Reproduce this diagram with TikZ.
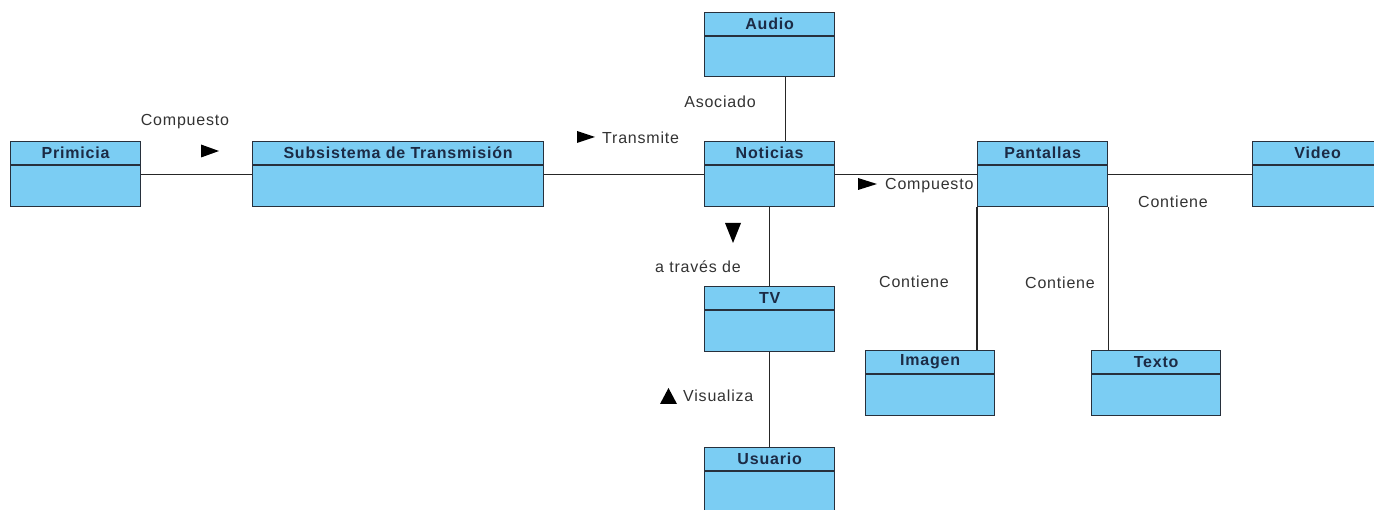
\documentclass[tikz,border=0pt]{standalone}
\usepackage{fontspec}
\setmainfont[LetterSpace=5]{Liberation Sans}
\definecolor{clsfill}{HTML}{7BCDF3}
\definecolor{clsline}{HTML}{27303C}
\definecolor{clstext}{HTML}{1C2B45}
\definecolor{lbltext}{HTML}{333333}
\tikzset{
  cls/.style={draw=clsline, fill=clsfill, line width=1.3pt, inner sep=0pt, anchor=north west},
  clstitle/.style={font=\fontsize{16}{18}\selectfont\bfseries, text=clstext, inner sep=0pt, anchor=center},
  lbl/.style={font=\fontsize{16}{18}\selectfont, text=lbltext, inner sep=0pt},
  assoc/.style={draw=black!85, line width=1.1pt},
  tri/.style={fill=black},
}
% \umlclass{name}{left}{top}{width}{height}{title}
\newcommand\umlclass[6]{%
  \node[cls, minimum width=#4pt, minimum height=#5pt] (#1) at (#2,#3) {};
  \draw[clsline, line width=1.2pt] ([yshift=-24pt]#1.north west) -- ([yshift=-24pt]#1.north east);
  \node[clstitle] (#1-title) at ([yshift=-12pt]#1.north) {#6};
}
\begin{document}
\begin{tikzpicture}[x=1pt, y=-1pt]
\useasboundingbox (0,0) rectangle (1374,510);
\clip (0,0) rectangle (1374,510);
\fill[white] (0,0) rectangle (1374,510);

% classes
\umlclass{prim}{10}{141}{130}{65}{Primicia}
\umlclass{sub}{252}{141}{291}{65}{Subsistema de Transmisión}
\umlclass{news}{704}{141}{130}{65}{Noticias}
\umlclass{audio}{704}{12}{130}{64}{Audio}
\umlclass{tv}{704}{286}{130}{65}{TV}
\umlclass{user}{704}{447}{130}{66}{Usuario}
\umlclass{screens}{977}{141}{130}{65}{Pantallas}
\umlclass{video}{1252}{141}{130}{65}{Video}
\umlclass{image}{865}{350}{129}{65}{Imagen}
\umlclass{text}{1091}{350}{129}{65}{Texto}

% associations
\draw[assoc] (prim.east) -- (sub.west);
\draw[assoc] (sub.east) -- (news.west);
\draw[assoc] (news.east) -- (screens.west);
\draw[assoc] (screens.east) -- (video.west);
\draw[assoc] ([xshift=16pt]audio.south) -- ([xshift=16pt]news.north);
\draw[assoc] (news.south) -- (tv.north);
\draw[assoc] (tv.south) -- (user.north);
\draw[assoc] (screens.south west) -- (screens.south west |- image.north);
\draw[assoc] (screens.south east) -- (screens.south east |- text.north);

% association names and reading-direction triangles
\node[lbl] (l-comp1) at (185,122) {Compuesto};
\fill[tri] (201,144.5) -- (219,151) -- (201,157.5) -- cycle;

\fill[tri] (577,131) -- (595,137) -- (577,143) -- cycle;
\node[lbl, anchor=west] (l-trans) at (602,137.5) {Transmite};

\node[lbl] (l-asoc) at (720,102) {Asociado};

\fill[tri] (858,178) -- (877,184) -- (858,190) -- cycle;
\node[lbl, anchor=west] (l-comp2) at (885,186) {Compuesto};

\node[lbl] (l-cont1) at (1173,202) {Contiene};

\fill[tri] (725,223) -- (741,223) -- (733,243) -- cycle;
\node[lbl] (l-trav) at (698,267) {a través de};

\node[lbl] (l-cont2) at (914,282) {Contiene};
\node[lbl] (l-cont3) at (1060,283) {Contiene};

\fill[tri] (660,404) -- (677,404) -- (668.5,388) -- cycle;
\node[lbl, anchor=west] (l-vis) at (683,396) {Visualiza};
\end{tikzpicture}
\end{document}
